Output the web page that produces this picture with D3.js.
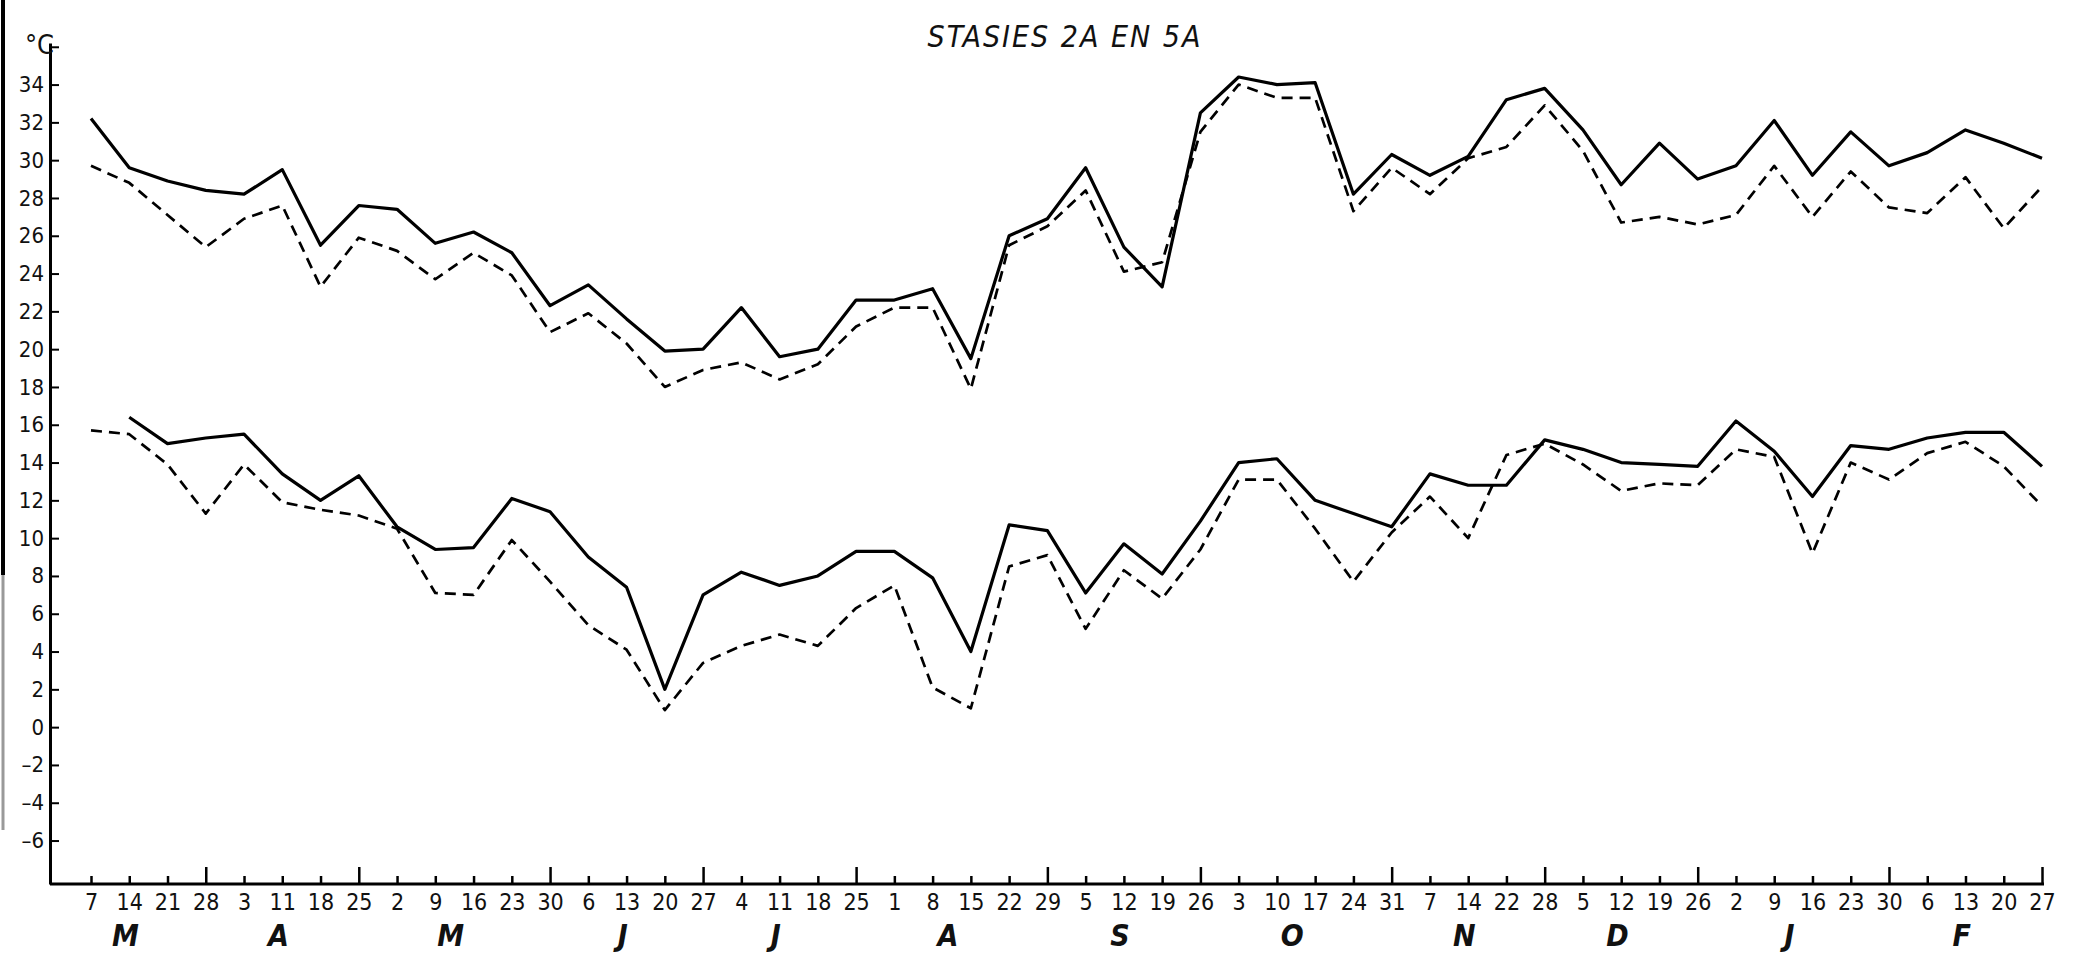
<!DOCTYPE html>
<html>
<head>
<meta charset="utf-8">
<script src="https://cdn.jsdelivr.net/npm/d3@7"></script>
<style>
  body { margin: 0; background: #fff; }
  svg { display: block; }
  text { fill: #111; font-family: "Liberation Sans Narrow", "DejaVu Sans Condensed", "DejaVu Sans", sans-serif; }
</style>
</head>
<body>
<div id="chart"></div>
<script>
const width = 2093, height = 971;

// week-day labels along the x axis (7 March .. 27 February)
const weekLabels = ["7","14","21","28","3","11","18","25","2","9","16","23","30",
  "6","13","20","27","4","11","18","25","1","8","15","22","29","5","12","19","26",
  "3","10","17","24","31","7","14","22","28","5","12","19","26","2","9","16","23","30",
  "6","13","20","27"];
const months = ["M","A","M","J","J","A","S","O","N","D","J","F"];
const monthWeeks = [4, 4, 5, 4, 4, 5, 4, 5, 4, 4, 5, 4];
const yTicks = d3.range(-6, 35, 2);

// upper pair (maxima)
const maxSolid = [32.2, 29.6, 28.9, 28.4, 28.2, 29.5, 25.5, 27.6, 27.4, 25.6, 26.2, 25.1, 22.3,
  23.4, 21.6, 19.9, 20.0, 22.2, 19.6, 20.0, 22.6, 22.6, 23.2, 19.5, 26.0, 26.9, 29.6, 25.4,
  23.3, 32.5, 34.4, 34.0, 34.1, 28.2, 30.3, 29.2, 30.2, 33.2, 33.8, 31.6, 28.7, 30.9, 29.0,
  29.7, 32.1, 29.2, 31.5, 29.7, 30.4, 31.6, 30.9, 30.1];
const maxDashed = [29.7, 28.8, 27.1, 25.4, 26.9, 27.6, 23.3, 25.9, 25.2, 23.7, 25.1, 23.9, 20.9,
  21.9, 20.3, 18.0, 18.9, 19.3, 18.4, 19.2, 21.2, 22.2, 22.2, 17.9, 25.5, 26.5, 28.4, 24.1,
  24.6, 31.5, 34.0, 33.3, 33.3, 27.3, 29.6, 28.2, 30.1, 30.7, 32.9, 30.5, 26.7, 27.0, 26.6,
  27.1, 29.7, 27.0, 29.4, 27.5, 27.2, 29.1, 26.4, 28.6];

// lower pair (minima)
const minSolid = [null, 16.4, 15.0, 15.3, 15.5, 13.4, 12.0, 13.3, 10.6, 9.4, 9.5, 12.1, 11.4,
  9.0, 7.4, 2.0, 7.0, 8.2, 7.5, 8.0, 9.3, 9.3, 7.9, 4.0, 10.7, 10.4, 7.1, 9.7, 8.1, 10.9,
  14.0, 14.2, 12.0, 11.3, 10.6, 13.4, 12.8, 12.8, 15.2, 14.7, 14.0, 13.9, 13.8, 16.2, 14.6,
  12.2, 14.9, 14.7, 15.3, 15.6, 15.6, 13.8];
const minDashed = [15.7, 15.5, 13.9, 11.3, 13.9, 11.9, 11.5, 11.2, 10.5, 7.1, 7.0, 9.9, 7.7,
  5.4, 4.1, 0.9, 3.4, 4.3, 4.9, 4.3, 6.3, 7.5, 2.1, 1.0, 8.5, 9.1, 5.2, 8.3, 6.8, 9.4, 13.1,
  13.1, 10.5, 7.7, 10.3, 12.2, 10.0, 14.4, 15.0, 13.9, 12.5, 12.9, 12.8, 14.7, 14.3, 9.2,
  14.0, 13.1, 14.5, 15.1, 13.8, 11.7];

const axisX = 50, axisY = 884;

const svg = d3.select("#chart").append("svg")
  .attr("width", width)
  .attr("height", height);

const x = d3.scalePoint()
  .domain(d3.range(weekLabels.length))
  .range([91, 2042]);

const y = d3.scaleLinear()
  .domain([-8.3, 36.2])
  .range([axisY, 43]);

// scanned page edge on the left
svg.append("line").attr("x1", 3).attr("x2", 3).attr("y1", 0).attr("y2", 575)
  .attr("stroke", "#000").attr("stroke-width", 4);
svg.append("line").attr("x1", 3).attr("x2", 3).attr("y1", 575).attr("y2", 830)
  .attr("stroke", "#999").attr("stroke-width", 3);

// title
svg.append("text")
  .attr("x", 1065).attr("y", 47)
  .attr("text-anchor", "middle")
  .style("font-size", "30px")
  .style("font-style", "italic")
  .style("letter-spacing", "2px")
  .text("STASIES 2A EN 5A");

// y axis
const yAxis = d3.axisLeft(y)
  .tickValues(yTicks.concat([36]))
  .tickFormat(d => d === 36 ? "" : (d < 0 ? "\u2013" + Math.abs(d) : d))
  .tickSizeInner(-9)
  .tickSizeOuter(0)
  .tickPadding(6);

const gy = svg.append("g")
  .attr("transform", `translate(${axisX},0)`)
  .call(yAxis);
gy.select(".domain").attr("stroke-width", 3);
gy.selectAll(".tick line").attr("stroke-width", 2);
gy.selectAll(".tick text").style("font-size", "22px").attr("fill", "#111");

svg.append("text")
  .attr("x", axisX + 4).attr("y", 54)
  .attr("text-anchor", "end")
  .style("font-size", "27px")
  .text("\u00B0C");

// x axis
const monthEnds = Array.from(d3.cumsum(monthWeeks), c => c - 1);
const monthStarts = [0].concat(monthEnds.slice(0, -1).map(e => e + 1));

const xAxis = d3.axisBottom(x)
  .tickFormat(i => weekLabels[i])
  .tickSizeInner(-8)
  .tickSizeOuter(0)
  .tickPadding(10);

const gx = svg.append("g")
  .attr("transform", `translate(0,${axisY})`)
  .call(xAxis);
gx.select(".domain").remove();
gx.selectAll(".tick line")
  .attr("stroke-width", 2.5)
  .attr("y2", i => monthEnds.includes(i) ? -17 : -8);
gx.selectAll(".tick text").style("font-size", "23px").attr("fill", "#111");

svg.append("line")
  .attr("x1", axisX).attr("x2", x(weekLabels.length - 1) + 2)
  .attr("y1", axisY).attr("y2", axisY)
  .attr("stroke", "#000").attr("stroke-width", 3);

// month letters
svg.append("g").selectAll("text")
  .data(months)
  .join("text")
  .attr("x", (m, k) => x(monthStarts[k]) + ((monthWeeks[k] - 1) / 2 - 0.6) * x.step())
  .attr("y", 946)
  .attr("text-anchor", "middle")
  .style("font-size", "30px")
  .style("font-style", "italic")
  .style("font-weight", "bold")
  .text(m => m);

// data lines
const line = d3.line()
  .defined(d => d != null)
  .x((d, i) => x(i))
  .y(d => y(d));

const series = [
  { values: maxSolid, dash: null, w: 3.2 },
  { values: maxDashed, dash: "11,7", w: 2.7 },
  { values: minSolid, dash: null, w: 3.2 },
  { values: minDashed, dash: "11,7", w: 2.7 }
];

svg.append("g").selectAll("path")
  .data(series)
  .join("path")
  .attr("d", s => line(s.values))
  .attr("fill", "none")
  .attr("stroke", "#000")
  .attr("stroke-width", s => s.w)
  .attr("stroke-linejoin", "round")
  .attr("stroke-dasharray", s => s.dash);
</script>
</body>
</html>
